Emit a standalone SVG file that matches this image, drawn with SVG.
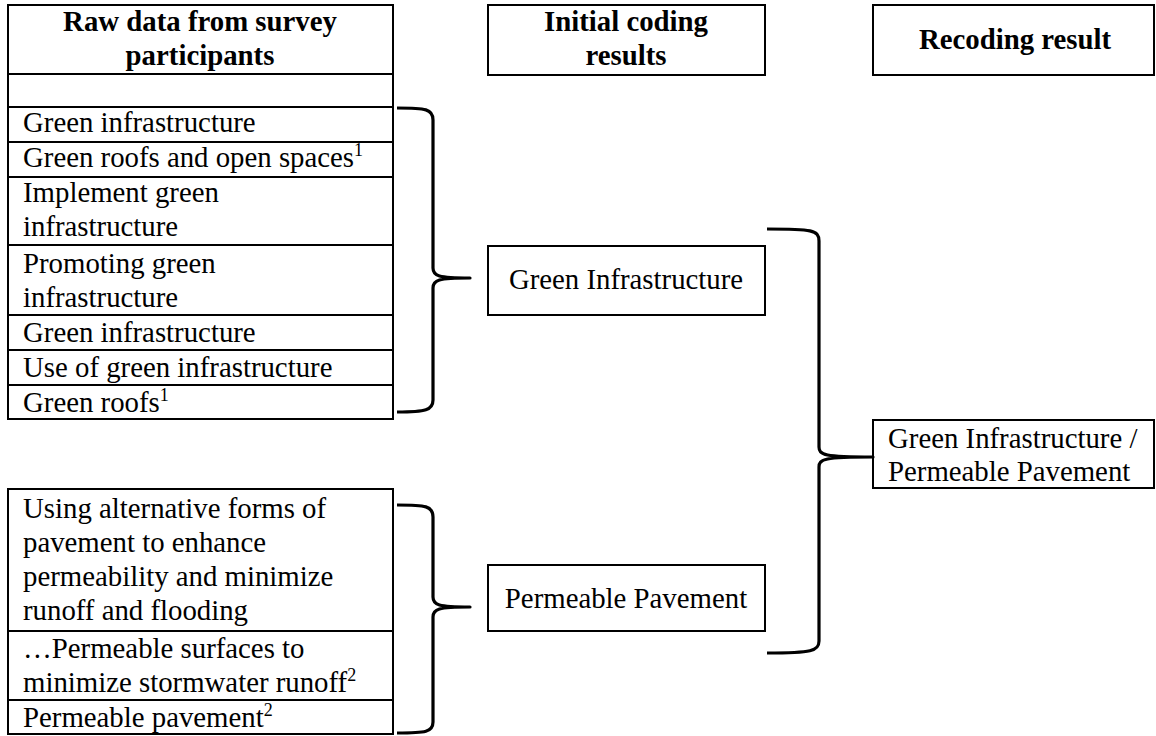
<svg xmlns="http://www.w3.org/2000/svg" width="1156" height="736" viewBox="0 0 1156 736">
<style>
.box{fill:#fff;stroke:#000;stroke-width:2}
.t{font-family:"Liberation Serif","Times New Roman",serif;font-size:28.8px;fill:#000}
.b{font-weight:bold}
.c{text-anchor:middle}
.sup{font-size:18px}
.br{fill:none;stroke:#000;stroke-width:3.2;stroke-linejoin:round;stroke-linecap:butt}
</style>
<rect width="1156" height="736" fill="#fff"/>
<g id="raw-header"><rect class="box" x="8" y="5" width="385" height="69"/><text class="t b c" x="200" y="31">Raw data from survey</text><text class="t b c" x="200" y="65">participants</text></g>
<g id="raw-empty"><rect class="box" x="8" y="74" width="385" height="33"/></g>
<g id="raw-1"><rect class="box" x="8" y="107" width="385" height="35"/><text class="t" x="23" y="132">Green infrastructure</text></g>
<g id="raw-2"><rect class="box" x="8" y="142" width="385" height="35"/><text class="t" x="23" y="167">Green roofs and open spaces<tspan class="sup" dy="-11">1</tspan></text></g>
<g id="raw-3"><rect class="box" x="8" y="177" width="385" height="68"/><text class="t" x="23" y="202">Implement green</text><text class="t" x="23" y="236">infrastructure</text></g>
<g id="raw-4"><rect class="box" x="8" y="245" width="385" height="70"/><text class="t" x="23" y="273">Promoting green</text><text class="t" x="23" y="307">infrastructure</text></g>
<g id="raw-5"><rect class="box" x="8" y="315" width="385" height="35"/><text class="t" x="23" y="342">Green infrastructure</text></g>
<g id="raw-6"><rect class="box" x="8" y="350" width="385" height="35"/><text class="t" x="23" y="377">Use of green infrastructure</text></g>
<g id="raw-7"><rect class="box" x="8" y="385" width="385" height="34"/><text class="t" x="23" y="412">Green roofs<tspan class="sup" dy="-11">1</tspan></text></g>
<g id="raw-8"><rect class="box" x="8" y="489" width="385" height="142"/><text class="t" x="23" y="518">Using alternative forms of</text><text class="t" x="23" y="552">pavement to enhance</text><text class="t" x="23" y="586">permeability and minimize</text><text class="t" x="23" y="620">runoff and flooding</text></g>
<g id="raw-9"><rect class="box" x="8" y="631" width="385" height="69"/><text class="t" x="23" y="658">…Permeable surfaces to</text><text class="t" x="23" y="692">minimize stormwater runoff<tspan class="sup" dy="-11">2</tspan></text></g>
<g id="raw-10"><rect class="box" x="8" y="700" width="385" height="34"/><text class="t" x="23" y="727">Permeable pavement<tspan class="sup" dy="-11">2</tspan></text></g>
<g id="initial-header"><rect class="box" x="488" y="5" width="277" height="70"/><text class="t b c" x="626" y="31">Initial coding</text><text class="t b c" x="626" y="65">results</text></g>
<g id="recode-header"><rect class="box" x="873" y="5" width="281" height="70"/><text class="t b c" x="1015" y="49">Recoding result</text></g>
<g id="code-gi"><rect class="box" x="488" y="246" width="277" height="69"/><text class="t c" x="626" y="289">Green Infrastructure</text></g>
<g id="code-pp"><rect class="box" x="488" y="565" width="277" height="66"/><text class="t c" x="626" y="608">Permeable Pavement</text></g>
<g id="recode-gipp"><rect class="box" x="873" y="420" width="281" height="68"/><text class="t" x="888" y="448">Green Infrastructure /</text><text class="t" x="888" y="481">Permeable Pavement</text></g>
<g id="connectors">
<path class="br" d="M397,108 C426,108 433,109 433,120 L433,268 C433,276 438,278 470,278 C438,278 433,280 433,288 L433,400 C433,410 426,412 397,412"/>
<path class="br" d="M397,505 C426,505 433,506 433,517 L433,597 C433,605 438,607 470,607 C438,607 433,609 433,617 L433,722 C433,732 426,733 397,733"/>
<path class="br" d="M767,229 C812,229 819,230 819,241 L819,447 C819,455 824,457 873,457 C824,457 819,459 819,467 L819,641 C819,651 812,653 767,653"/>
</g>
</svg>
